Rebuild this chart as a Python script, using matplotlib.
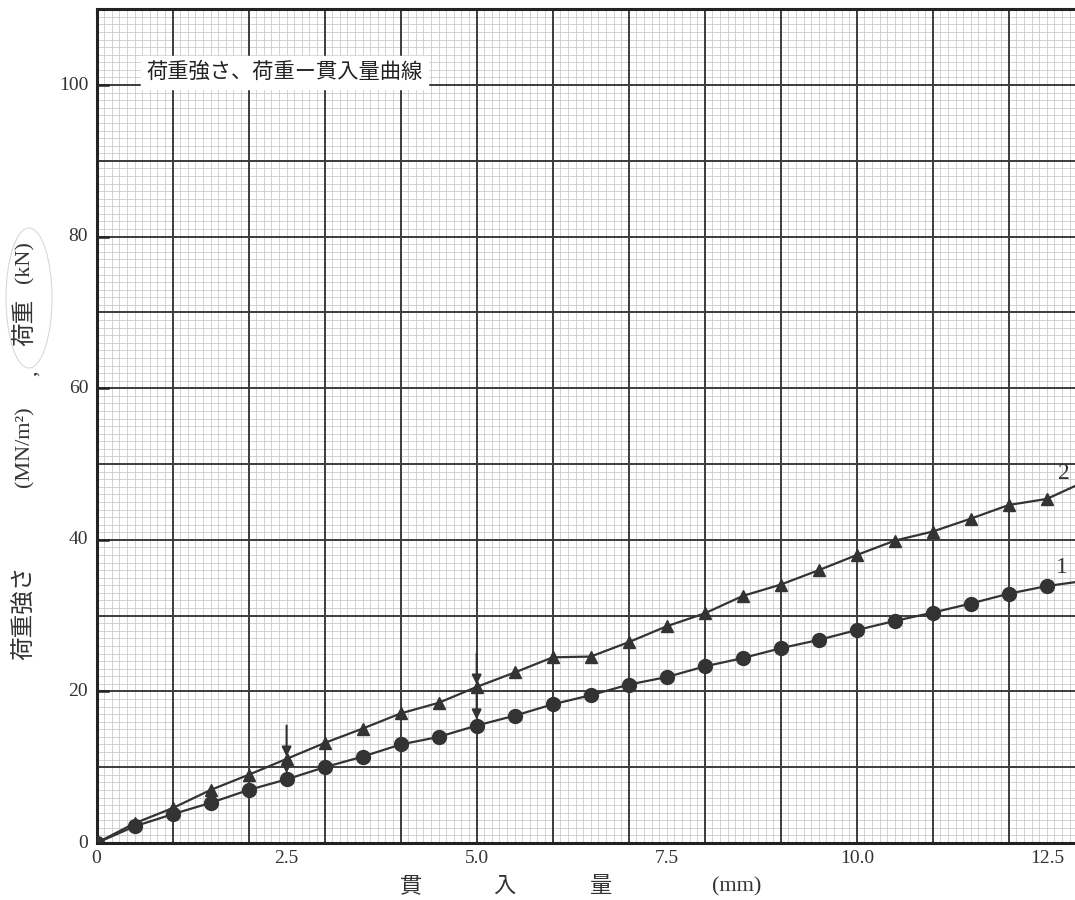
import numpy as np
import matplotlib
matplotlib.use("Agg")
from matplotlib import pyplot as plt
from matplotlib.patches import Ellipse

plt.rcParams['font.family'] = ['Liberation Serif', 'Noto Sans CJK JP']

# penetration (mm)
x_mm = [0, 0.5, 1.0, 1.5, 2.0, 2.5, 3.0, 3.5, 4.0, 4.5, 5.0, 5.5, 6.0, 6.5,
        7.0, 7.5, 8.0, 8.5, 9.0, 9.5, 10.0, 10.5, 11.0, 11.5, 12.0, 12.5, 13.0]
# curve 1 (circles)
curve1 = [0, 2.2, 3.8, 5.3, 7.0, 8.4, 10.0, 11.4, 13.0, 14.0, 15.5, 16.8, 18.3, 19.5,
          20.9, 21.9, 23.3, 24.4, 25.7, 26.8, 28.1, 29.3, 30.4, 31.6, 32.9, 33.9, 34.6]
# curve 2 (triangles)
curve2 = [0, 2.6, 4.6, 7.0, 9.0, 11.1, 13.2, 15.1, 17.1, 18.5, 20.6, 22.5, 24.5, 24.6,
          26.5, 28.6, 30.3, 32.6, 34.1, 36.0, 38.0, 39.9, 41.1, 42.8, 44.6, 45.4, 47.7]

# arrows: x position and where the shaft starts
arrow_x = [2.5, 5.0]
arrow_top = [15.5, 25.0]

x_ticks = [0, 2.5, 5.0, 7.5, 10.0, 12.5]
x_ticklabels = ['0', '2.5', '5.0', '7.5', '10.0', '12.5']
y_ticks = [0, 20, 40, 60, 80, 100]

title = '荷重強さ、荷重ー貫入量曲線'

ink = '#333333'
txt = '#333333'

fig = plt.figure(figsize=(10.75, 9), dpi=100)
ax = fig.add_axes([0.0898, 0.0633, 0.9102, 0.9264])

# graph paper: fine lines every 0.1 mm / 1 unit, heavy lines every 1 mm / 10 units
fine_x = [v for v in np.arange(0, 13.01, 0.1) if abs(v - round(v)) > 1e-6]
fine_y = [v for v in np.arange(0, 110.1, 1.0) if int(round(v)) % 10 != 0]
ax.vlines(fine_x, 0, 110, color='#c6c6c6', lw=0.55, zorder=0.5)
ax.hlines(fine_y, 0, 13, color='#c6c6c6', lw=0.55, zorder=0.5)
ax.vlines(np.arange(1, 13.01, 1.0), 0, 110, color='#3c3c3c', lw=1.4, zorder=1)
ax.hlines(np.arange(10, 110.1, 10), 0, 13, color='#3c3c3c', lw=1.4, zorder=1)

for s in ['left', 'bottom', 'top']:
    ax.spines[s].set_linewidth(2.2)
    ax.spines[s].set_color('#222222')
ax.spines['right'].set_visible(False)

ax.plot(x_mm, curve2, color=ink, lw=1.6, marker='^', ms=9, zorder=3)
ax.plot(x_mm, curve1, color=ink, lw=1.6, marker='o', ms=10, zorder=4)

for xa, top in zip(arrow_x, arrow_top):
    i = x_mm.index(xa)
    ax.annotate('', xy=(xa, curve2[i] + 0.3), xytext=(xa, top),
                arrowprops=dict(arrowstyle='-|>', color=ink, lw=1.5,
                                shrinkA=0, shrinkB=0, mutation_scale=14), zorder=5)
    ax.annotate('', xy=(xa, curve1[i] + 0.8), xytext=(xa, curve2[i]),
                arrowprops=dict(arrowstyle='-|>', color=ink, lw=1.5,
                                shrinkA=0, shrinkB=0, mutation_scale=14), zorder=5)

ax.text(12.72, 48.8, '2', fontsize=17, color=txt, ha='center', va='center')
ax.text(12.70, 36.3, '1', fontsize=17, color=txt, ha='center', va='center')

ax.text(0.66, 101.7, title, fontsize=15.3, color='#222222', ha='left', va='center',
        family=['Noto Sans CJK JP'],
        bbox=dict(facecolor='white', edgecolor='white', pad=4), zorder=6)

ax.set_xlim(0, 12.87)
ax.set_ylim(0, 110)

# ticks
ax.set_xticks(x_ticks)
ax.set_yticks(y_ticks)
ax.tick_params(which='both', length=0)
ax.set_xticklabels([])
ax.set_yticklabels([])
for xt, lab in zip(x_ticks, x_ticklabels):
    ax.annotate(lab, xy=(xt, 0), xytext=(0, -11), textcoords='offset points',
                ha='center', va='center', fontsize=14, color=txt, annotation_clip=False)
for yt in y_ticks:
    ax.annotate(str(yt), xy=(0, yt), xytext=(-6, 0), textcoords='offset points',
                ha='right', va='center', fontsize=14, color=txt, annotation_clip=False)
    ax.plot([0, 0.15], [yt, yt], color='#222222', lw=1.8, zorder=5, clip_on=False)

# x-axis title
xl_y = 1 - 887 / 900
fig.text(411 / 1075, xl_y, '貫', fontsize=16, ha='center', va='center', color=txt)
fig.text(504 / 1075, xl_y, '入', fontsize=16, ha='center', va='center', color=txt)
fig.text(601 / 1075, xl_y, '量', fontsize=16, ha='center', va='center', color=txt)
fig.text(737 / 1075, xl_y, '(mm)', fontsize=16, ha='center', va='center', color=txt)

# y-axis title
ylab_x = 25 / 1075
fig.text(ylab_x, 1 - 613 / 900, '荷重強さ', fontsize=17, rotation=90, ha='center', va='center', color=txt)
fig.text(ylab_x, 1 - 447 / 900, '(MN/m²)', fontsize=16, rotation=90, ha='center', va='center', color=txt)
fig.text(31 / 1075, 1 - 373 / 900, ',', fontsize=16, rotation=90, ha='center', va='center', color=txt)
fig.text(ylab_x, 1 - 322 / 900, '荷重', fontsize=17, rotation=90, ha='center', va='center', color=txt)
fig.text(ylab_x, 1 - 262 / 900, '(kN)', fontsize=16, rotation=90, ha='center', va='center', color=txt)
fig.patches.append(Ellipse((29 / 1075, 1 - 298 / 900), 46 / 1075, 140 / 900,
                           transform=fig.transFigure, fill=False, edgecolor='#d8d8d8', lw=0.8))

fig.savefig('out.png', dpi=100)
